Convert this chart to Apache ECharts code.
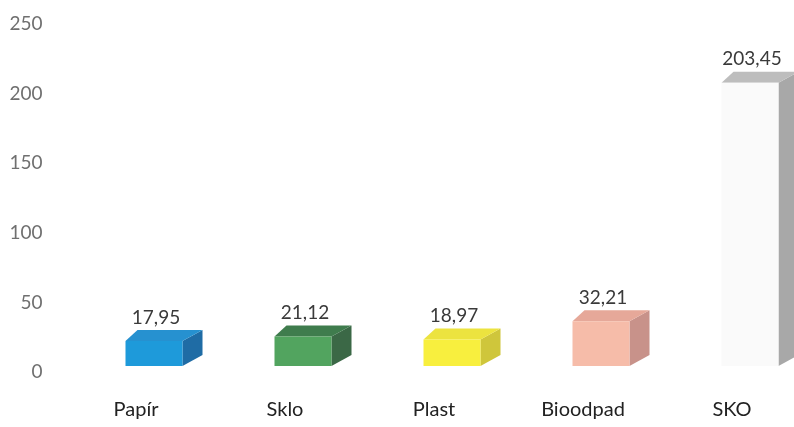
<!DOCTYPE html>
<html><head><meta charset="utf-8">
<script src="https://cdn.jsdelivr.net/npm/echarts@6/dist/echarts.min.js"></script>
<style>html,body{margin:0;padding:0;background:#fff}#c{width:794px;height:427px}</style>
</head><body><div id="c"></div>
<script>
const categories = ['Papír', 'Sklo', 'Plast', 'Bioodpad', 'SKO'];
const values = [17.95, 21.12, 18.97, 32.21, 203.45];
const yTicks = [0, 50, 100, 150, 200, 250];
const frontColors = ['#1E9ADA', '#52A45F', '#F8EF3E', '#F6BCA9', '#FAFAFA'];
const topColors = ['#2691D0', '#3F7C4D', '#ECE33F', '#E6A899', '#BDBDBD'];
const sideColors = ['#1F6CA5', '#3B6846', '#CFC63B', '#C8928A', '#A8A8A8'];

function fmt(v) { return v.toFixed(2).replace('.', ','); }

function renderItem(params, api) {
  const i = api.value(0);
  const v = api.value(1);
  const top = api.coord([i, v]);
  const base = api.coord([i, 0]);
  const w = 57, off = 18, lift = 6, dxL = 12, dxR = 20, dy = 11;
  const xL = base[0] + off - w / 2, xR = xL + w;
  const yB = base[1] - lift, yT = top[1] - lift;
  return {
    type: 'group',
    children: [
      { type: 'polygon', shape: { points: [[xR, yT], [xR + dxR, yT - dy], [xR + dxR, yB - dy], [xR, yB]] }, style: { fill: sideColors[i] } },
      { type: 'polygon', shape: { points: [[xL, yT], [xL + dxL, yT - dy], [xR + dxR, yT - dy], [xR, yT]] }, style: { fill: topColors[i] } },
      { type: 'rect', shape: { x: xL, y: yT, width: w, height: yB - yT }, style: { fill: frontColors[i] } },
      { type: 'text', style: { text: fmt(v), x: (xL + xR) / 2 + 2, y: yT - dy - 3, align: 'center', verticalAlign: 'bottom', fill: '#3a3a3a', fontSize: 19, fontFamily: 'Lato' } }
    ]
  };
}

const chart = echarts.init(document.getElementById('c'), null, { renderer: 'canvas' });
chart.setOption({
  backgroundColor: '#ffffff',
  animation: false,
  grid: { left: 61.5, top: 24, right: -12.5, bottom: 55, containLabel: false, outerBoundsMode: 'none' },
  xAxis: {
    type: 'category',
    data: categories,
    axisLine: { show: false },
    axisTick: { show: false },
    axisLabel: { margin: 28, color: '#222', fontSize: 20, fontFamily: 'Lato', hideOverlap: false }
  },
  yAxis: {
    type: 'value',
    min: yTicks[0],
    max: yTicks[yTicks.length - 1],
    interval: yTicks[1] - yTicks[0],
    axisLine: { show: false },
    axisTick: { show: false },
    splitLine: { show: false },
    axisLabel: { margin: 19, color: '#707070', fontSize: 19, fontFamily: 'Lato' }
  },
  series: [{
    type: 'custom',
    renderItem: renderItem,
    encode: { x: 0, y: 1 },
    data: values.map((v, i) => [i, v]),
    clip: false
  }]
});
</script>
</body></html>
